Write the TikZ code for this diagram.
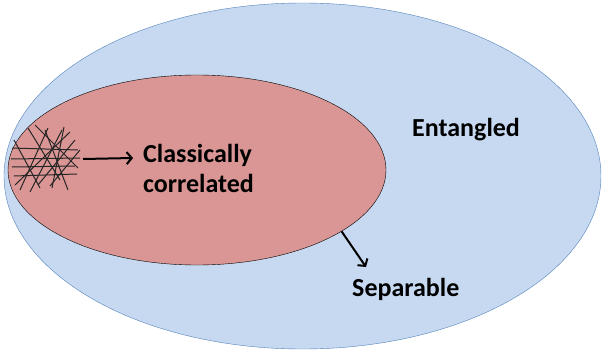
\documentclass[tikz,border=0pt]{standalone}
\usepackage{fontspec}
\setmainfont{Carlito}
\usetikzlibrary{shapes.geometric}
\usetikzlibrary{arrows.meta}
\definecolor{entblue}{RGB}{198,217,240}
\definecolor{entedge}{RGB}{84,130,190}
\definecolor{sepred}{RGB}{217,150,148}
\tikzset{lbl/.style={font=\fontsize{26}{30}\selectfont\bfseries, inner sep=0pt, align=left},
arr/.style={line width=2pt, -{Straight Barb[length=5pt,width=12pt]}}}

\begin{document}
\begin{tikzpicture}[x=1pt,y=-1pt]
\useasboundingbox (0,0) rectangle (603,351);
\node[ellipse, draw=entedge, fill=entblue, minimum width=597pt, minimum height=346pt, inner sep=0pt] (ent) at (302.5,176) {};
\node[ellipse, draw, fill=sepred, minimum width=378pt, minimum height=190pt, inner sep=0pt] (sep) at (197,170) {};
% classically correlated states
\foreach \a/\b/\c/\d in {12/148/78/150, 11/159/80/158, 12/167/75/166, 14/176/77/174,
20/190/48/128, 30/192/62/130, 38/185/75/140, 45/130/68/190, 28/128/60/180,
14/140/40/188, 50/186/80/150, 64/127/52/188, 15/185/70/132, 35/125/78/168}
\draw[line width=1pt, black!85] (\a,\b) -- (\c,\d);
\node[lbl, anchor=base west] (ent-lbl) at (412,136) {Entangled};
\node[lbl, anchor=base west] (cc-lbl) at (143,192) {Classically\\correlated};
\node[lbl, anchor=base west] (sep-lbl) at (352,296) {Separable};
\coordinate (cc-from) at (83,159);
\coordinate (cc-to) at (133,158);
\coordinate (sep-to) at (366,267);
\draw[arr] (cc-from) -- (cc-to);
\draw[arr] (sep.-23) -- (sep-to);
\end{tikzpicture}
\end{document}
